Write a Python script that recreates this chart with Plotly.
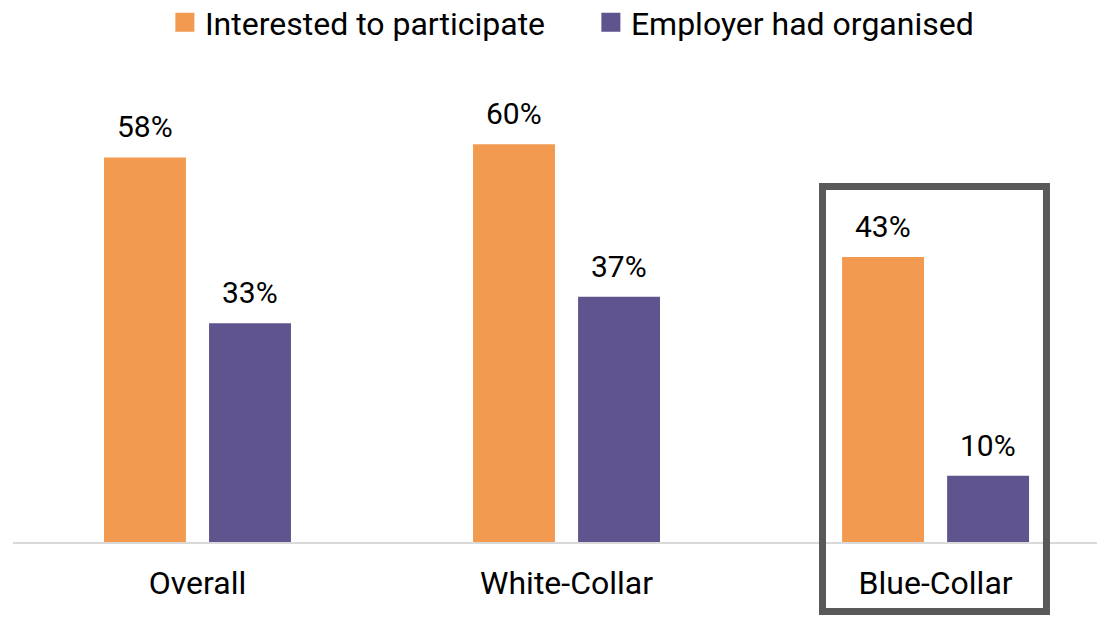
import plotly.graph_objects as go

categories = ["Overall", "White-Collar", "Blue-Collar"]
interested = [58, 60, 43]
organised = [33, 37, 10]
series_names = ["Interested to participate", "Employer had organised"]
colors = ["#F39A51", "#5F548D"]

FONT = "Roboto"
pos = list(range(len(categories)))
bar_w = 0.222
offsets = [-0.2534, 0.0312]

fig = go.Figure()
for vals, name, col, off in zip([interested, organised], series_names, colors, offsets):
    fig.add_trace(go.Bar(
        x=pos, y=vals, width=bar_w, offset=off,
        marker=dict(color=col, line=dict(width=0)),
        showlegend=False, hoverinfo="skip",
    ))
    # legend proxy
    fig.add_trace(go.Scatter(
        x=[None], y=[None], mode="markers", name=name,
        marker=dict(symbol="square", size=16, color=col, line=dict(color=col, width=3)),
    ))
    for p, v in zip(pos, vals):
        fig.add_annotation(
            x=p + off + bar_w / 2, y=v, text=f"{v}%", showarrow=False,
            yanchor="bottom", yshift=11,
            font=dict(family=FONT, size=30, color="#000000"),
        )

# highlight box around Blue-Collar
fig.add_shape(
    type="rect", xref="x domain", yref="paper",
    x0=0.7413, x1=0.9464, y0=-0.1413, y1=0.7226,
    line=dict(color="#595959", width=7), fillcolor="rgba(0,0,0,0)", layer="above",
)

fig.update_layout(
    width=1097, height=611,
    margin=dict(l=5, r=0, t=42, b=77, autoexpand=False),
    paper_bgcolor="white", plot_bgcolor="white",
    font=dict(family=FONT, size=32, color="#000000"),
    showlegend=True,
    legend=dict(
        orientation="h", xref="paper", yref="paper",
        x=0.5292, xanchor="center", y=1.112, yanchor="top",
        font=dict(family=FONT, size=32, color="#000000"),
        itemwidth=30, tracegroupgap=0, entrywidth=381,
    ),
    xaxis=dict(
        range=[-0.5, 2.459], tickvals=pos, ticktext=categories,
        showgrid=False, zeroline=False, showline=True,
        linecolor="#D9D9D9", linewidth=1.5, ticks="",
        ticklabelstandoff=12,
        tickfont=dict(family=FONT, size=32, color="#000000"),
    ),
    yaxis=dict(range=[0, 74.2], visible=False, showgrid=False, zeroline=False),
)

fig.write_html("out.html")
